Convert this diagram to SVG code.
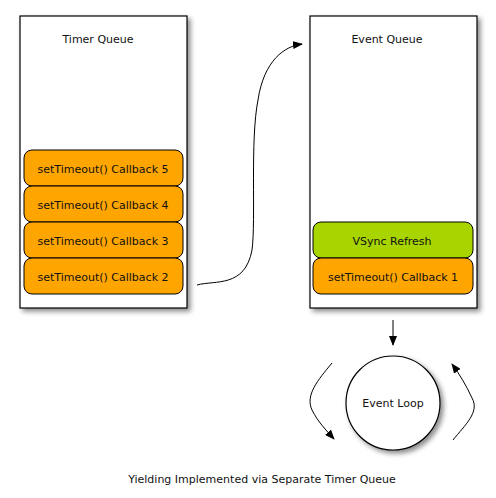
<svg xmlns="http://www.w3.org/2000/svg" width="496" height="498" viewBox="0 0 496 498">
<defs>
<filter id="sh" x="-10%" y="-10%" width="130%" height="130%">
<feDropShadow dx="3" dy="3" stdDeviation="2.5" flood-color="#000" flood-opacity="0.45"/>
</filter>
<marker id="ah" markerWidth="10" markerHeight="8" refX="9" refY="4" orient="auto" markerUnits="userSpaceOnUse">
<path d="M0,0 L10,4 L0,8 Z" fill="#000"/>
</marker>
<style>
text{font-family:"Comic Sans MS","DejaVu Sans","Liberation Sans",sans-serif;font-size:11px;fill:#111;text-anchor:middle}
.q{fill:#fff;stroke:#000;stroke-width:1.2}
.cb{fill:#ffa500;stroke:#000;stroke-width:1}
.vs{fill:#a8d400;stroke:#000;stroke-width:1}
.c{fill:none;stroke:#000;stroke-width:1}
</style>
</defs>
<g id="timer-queue">
<rect class="q" x="20" y="16" width="167" height="292" filter="url(#sh)"/>
<text x="98" y="43">Timer Queue</text>
</g>
<g id="cb5"><rect class="cb" x="24" y="150" width="159" height="36" rx="8"/><text x="103" y="173" textLength="131">setTimeout() Callback 5</text></g>
<g id="cb4"><rect class="cb" x="24" y="186" width="159" height="36" rx="8"/><text x="103" y="209" textLength="131">setTimeout() Callback 4</text></g>
<g id="cb3"><rect class="cb" x="24" y="222" width="159" height="36" rx="8"/><text x="103" y="245" textLength="131">setTimeout() Callback 3</text></g>
<g id="cb2"><rect class="cb" x="24" y="258" width="159" height="36" rx="8"/><text x="103" y="281" textLength="131">setTimeout() Callback 2</text></g>
<g id="event-queue">
<rect class="q" x="310" y="16" width="167" height="292" filter="url(#sh)"/>
<text x="387" y="43">Event Queue</text>
</g>
<g id="vsync"><rect class="vs" x="313" y="222" width="160" height="36" rx="8"/><text x="392" y="245">VSync Refresh</text></g>
<g id="cb1"><rect class="cb" x="313" y="258" width="160" height="36" rx="8"/><text x="393" y="281" textLength="130">setTimeout() Callback 1</text></g>
<g id="event-loop">
<circle cx="393" cy="403" r="47" fill="#fff" stroke="#000" stroke-width="1.2" filter="url(#sh)"/>
<text x="393" y="407">Event Loop</text>
</g>
<g id="connectors">
<path class="c" d="M197,285 C215,280 245,288 252,250 C256,220 250,140 258,100 C264,60 285,46 302,44" marker-end="url(#ah)"/>
<path class="c" d="M393,320 L393,345" marker-end="url(#ah)"/>
<path class="c" d="M332,363 C318,380 305,395 312,410 C318,422 326,430 334,439" marker-end="url(#ah)"/>
<path class="c" d="M453,440 C465,425 480,412 472,398 C466,385 460,375 452,364" marker-end="url(#ah)"/>
</g>
<text x="262" y="483">Yielding Implemented via Separate Timer Queue</text>
</svg>
